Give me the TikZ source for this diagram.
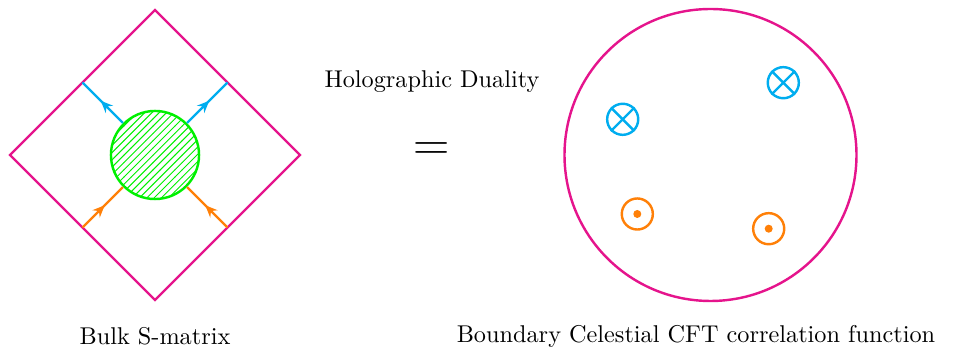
\documentclass[tikz,border=0pt]{standalone}
\usetikzlibrary{arrows.meta,decorations.markings,patterns}
\definecolor{bdMagenta}{HTML}{E5148C}
\definecolor{inBlue}{HTML}{00ADEF}
\definecolor{outOrange}{HTML}{FF8008}
\definecolor{blobGreen}{HTML}{00F000}
\tikzset{
  midarrow/.style={decoration={markings,
      mark=at position 0.55 with {\arrow{Stealth[length=5pt,width=4.2pt]}}},
    postaction={decorate}},
  leg/.style={line width=1pt, midarrow},
  insertion/.style={circle, draw, line width=1pt, minimum size=12.8pt, inner sep=0pt}
}
\begin{document}
\begin{tikzpicture}[x=0.412pt, y=-0.412pt, every node/.style={font=\normalsize}]
  \useasboundingbox (0,0) rectangle (966,352);
  % bulk flat space
  \draw[bdMagenta, line width=1pt] (155,10) -- (300,155) -- (155,300) -- (10,155) -- cycle;
  \node[circle, draw=blobGreen, line width=1pt, minimum size=36.3pt, inner sep=0pt,
        pattern=north east lines, pattern color=blobGreen] (blob) at (155,155) {};
  \coordinate (nw) at (82.5,82.5);
  \coordinate (ne) at (227.5,82.5);
  \coordinate (sw) at (82.5,227.5);
  \coordinate (se) at (227.5,227.5);
  \draw[leg, inBlue] (blob.135) -- (nw);
  \draw[leg, inBlue] (blob.45) -- (ne);
  \draw[leg, outOrange] (sw) -- (blob.225);
  \draw[leg, outOrange] (se) -- (blob.315);
  \node (bulk) at (155,336) {Bulk S-matrix};
  % duality
  \node (dual) at (432,82) {Holographic Duality};
  \node[font=\huge] (eq) at (432,152) {$=$};
  % celestial sphere
  \node[circle, draw=bdMagenta, line width=1pt, minimum size=120.3pt, inner sep=0pt] (sphere) at (710.5,155) {};
  \node[insertion, draw=inBlue] (o1) at (622.7,119.3) {};
  \node[insertion, draw=inBlue] (o2) at (783.3,82.7) {};
  \foreach \o in {o1,o2}
    \draw[inBlue, line width=1pt] (\o.45) -- (\o.225) (\o.135) -- (\o.315);
  \node[insertion, draw=outOrange] (o3) at (637.3,214) {};
  \node[insertion, draw=outOrange] (o4) at (768.7,228.7) {};
  \foreach \o in {o3,o4}
    \fill[outOrange] (\o) circle [radius=4];
  \node (bdy) at (696,336) {Boundary Celestial CFT correlation function};
\end{tikzpicture}
\end{document}
